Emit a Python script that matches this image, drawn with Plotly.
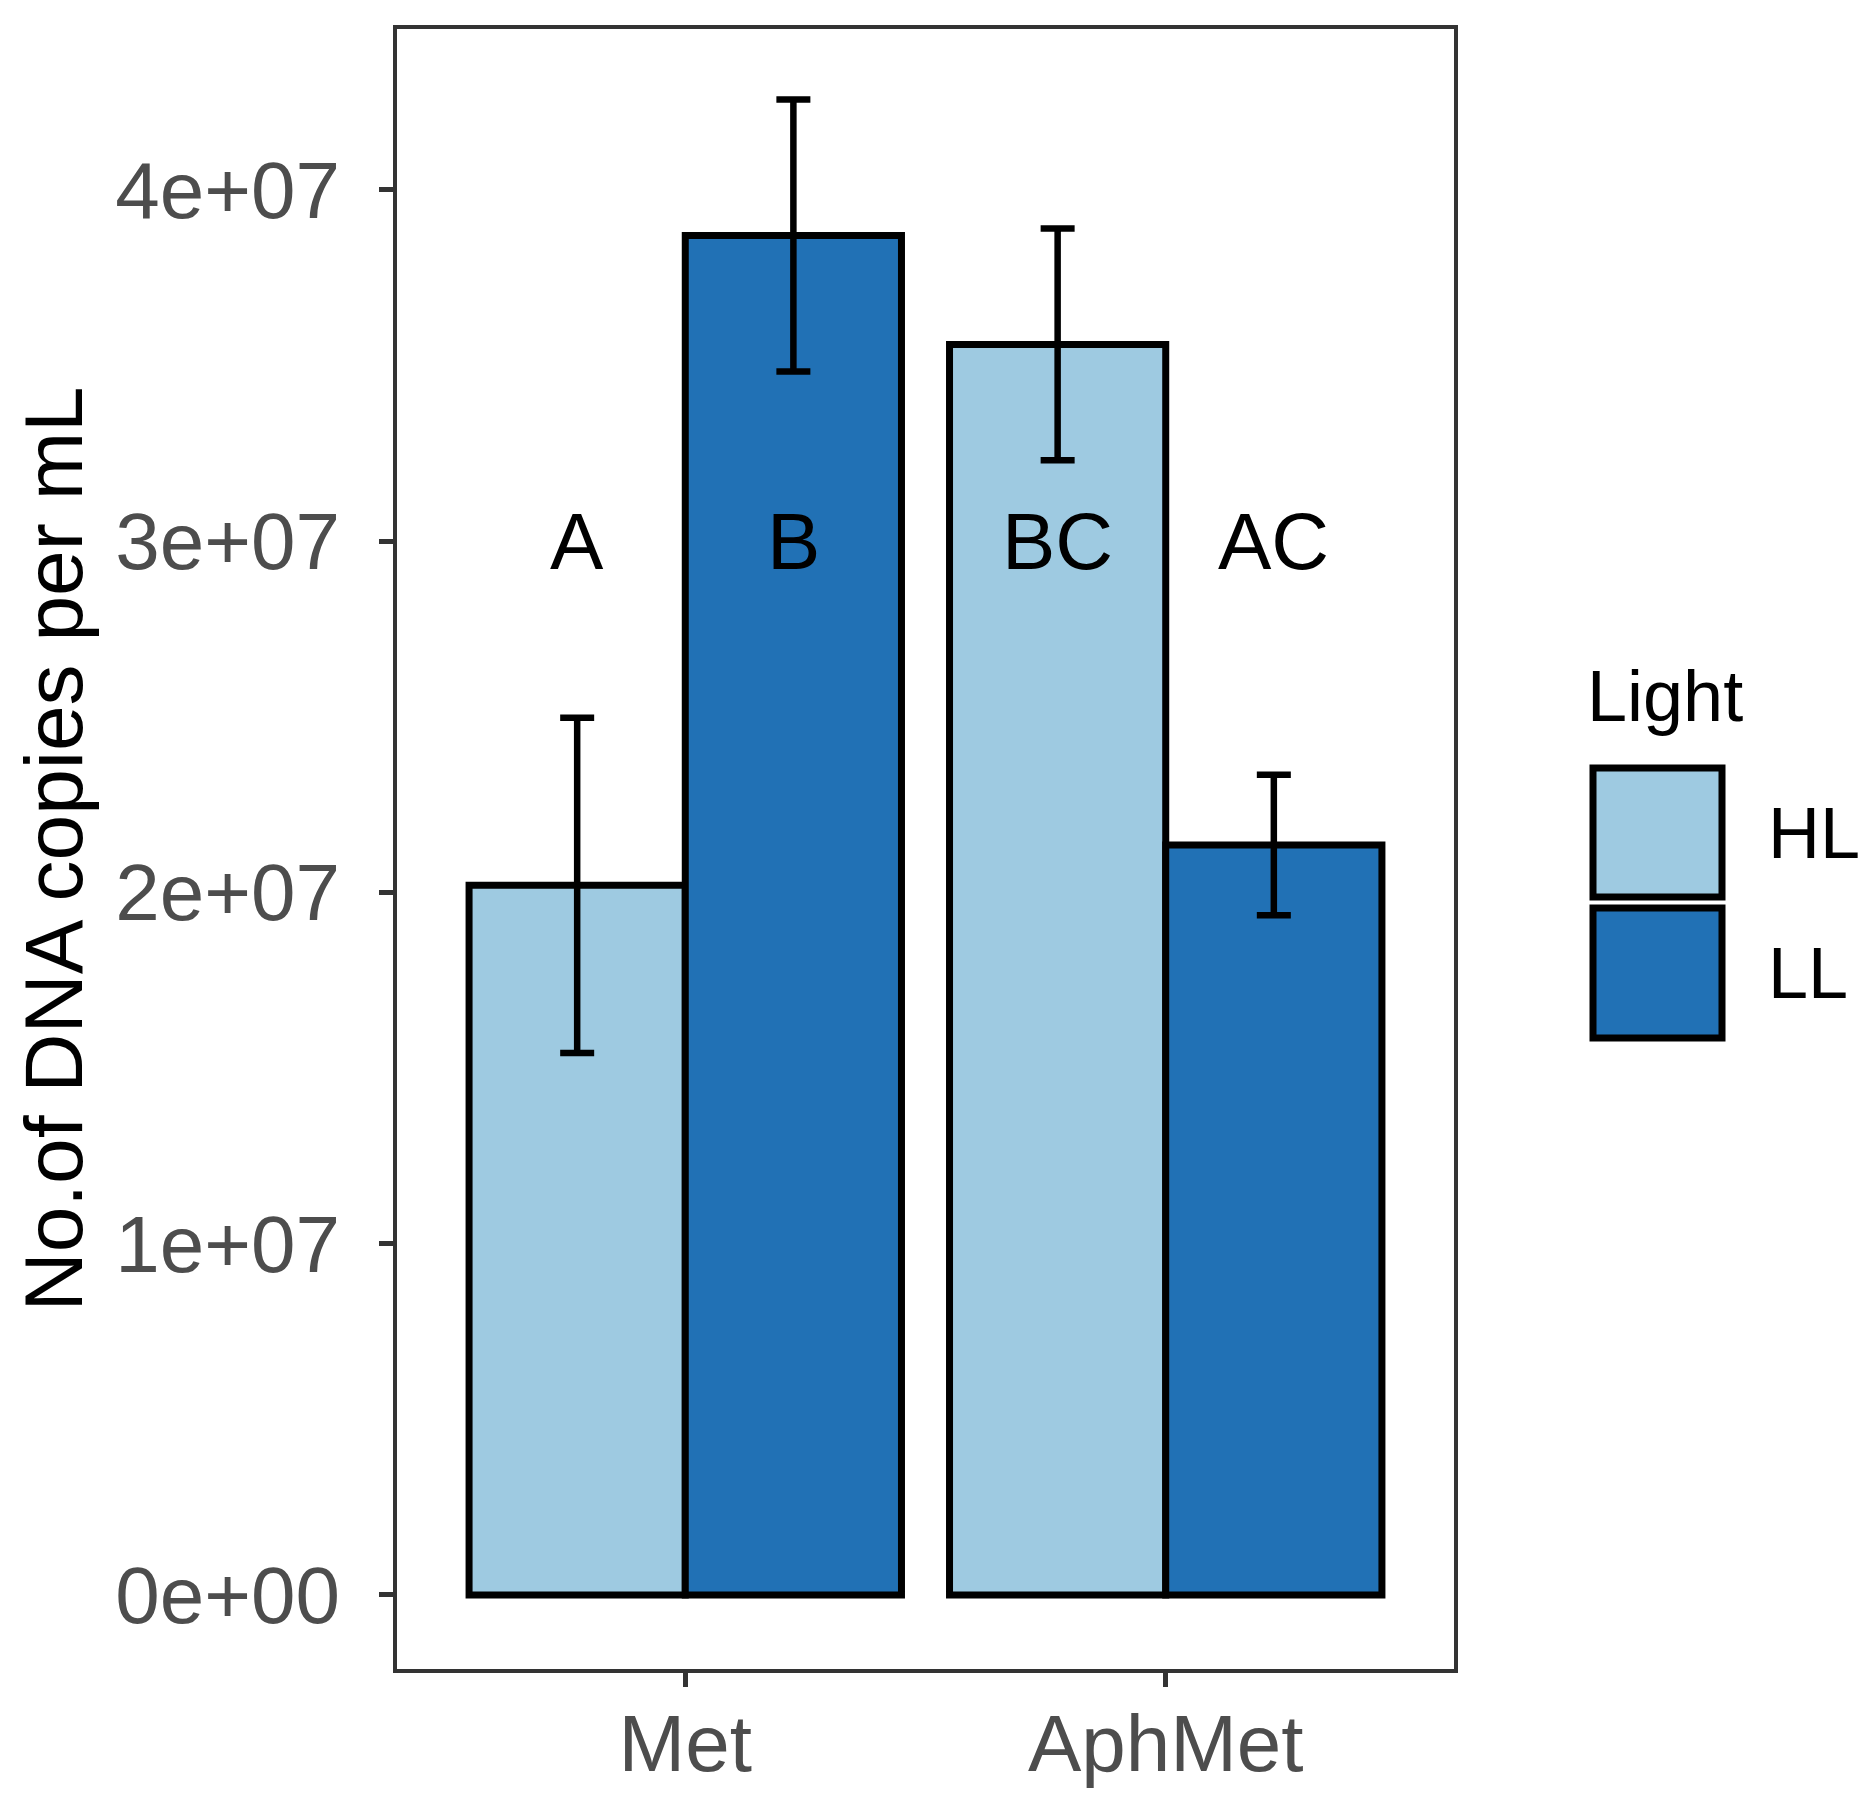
import plotly.graph_objects as go

# ---- data ----
categories = ["Met", "AphMet"]
light_levels = ["HL", "LL"]
hl_means = [2.02e7, 3.56e7]
hl_se = [0.477e7, 0.33e7]
ll_means = [3.87e7, 2.135e7]
ll_se = [0.387e7, 0.2e7]
hl_letters = ["A", "BC"]
ll_letters = ["B", "AC"]
y_ticks = [0, 1e7, 2e7, 3e7, 4e7]
y_tick_labels = ["0e+00", "1e+07", "2e+07", "3e+07", "4e+07"]
letter_y = 3e7

colors = {"HL": "#9ECAE1", "LL": "#2171B5"}
FONT = "Liberation Sans, Arial, sans-serif"

W, H = 1867, 1804
ML, MR, MT, MB = 389, W - 1446, 21, H - 1661
PW, PH = W - ML - MR, H - MT - MB


def px(xp):
    return (xp - ML) / PW


def py(yp):
    return (H - MB - yp) / PH


fig = go.Figure()
for name, means, se in [("HL", hl_means, hl_se), ("LL", ll_means, ll_se)]:
    fig.add_trace(go.Bar(
        x=categories, y=means, name=name,
        marker=dict(color=colors[name], line=dict(color="black", width=7)),
        error_y=dict(type="data", array=se, visible=True, color="black",
                     thickness=6.5, width=17),
        showlegend=False,
    ))

annotations = []
dodge = 0.225
for i in range(len(categories)):
    for off, letters in [(-dodge, hl_letters), (dodge, ll_letters)]:
        annotations.append(dict(
            x=i + off, y=letter_y, xref="x", yref="y", text=letters[i],
            showarrow=False, xanchor="center", yanchor="middle",
            font=dict(family=FONT, size=80, color="black")))

# manual legend (ggplot style large keys)
shapes = []
for name, (y0, y1) in zip(light_levels, [(760, 889), (900, 1030)]):
    shapes.append(dict(type="rect", xref="paper", yref="paper",
                       x0=px(1585), x1=px(1714), y0=py(y1), y1=py(y0),
                       fillcolor=colors[name], line=dict(color="black", width=7)))
    annotations.append(dict(x=px(1758), y=py((y0 + y1) / 2), xref="paper", yref="paper",
                            text=name, showarrow=False, xanchor="left", yanchor="middle",
                            font=dict(family=FONT, size=72, color="black")))
annotations.append(dict(x=px(1577), y=py(688), xref="paper", yref="paper",
                        text="Light", showarrow=False, xanchor="left", yanchor="middle",
                        font=dict(family=FONT, size=72, color="black")))

axis_common = dict(showline=True, mirror=True, linecolor="#333333", linewidth=4,
                   ticks="outside", ticklen=14, tickwidth=4.5, tickcolor="#333333",
                   showgrid=False, zeroline=False,
                   tickfont=dict(family=FONT, size=80, color="#4D4D4D"))

fig.update_layout(
    width=W, height=H,
    margin=dict(l=ML, r=MR, t=MT, b=MB, autoexpand=False),
    paper_bgcolor="white", plot_bgcolor="white",
    barmode="group", bargap=0.1, bargroupgap=0,
    xaxis=dict(**axis_common, range=[-0.6, 1.6], ticklabelstandoff=-12),
    yaxis=dict(**axis_common, range=[-2.11e6, 4.458e7], tickvals=y_ticks,
               ticktext=y_tick_labels, ticklabelstandoff=23,
               title=dict(text="No.of DNA copies per mL", standoff=36,
                          font=dict(family=FONT, size=82, color="black"))),
    annotations=annotations, shapes=shapes,
    font=dict(family=FONT),
)

fig.write_html("out.html")
